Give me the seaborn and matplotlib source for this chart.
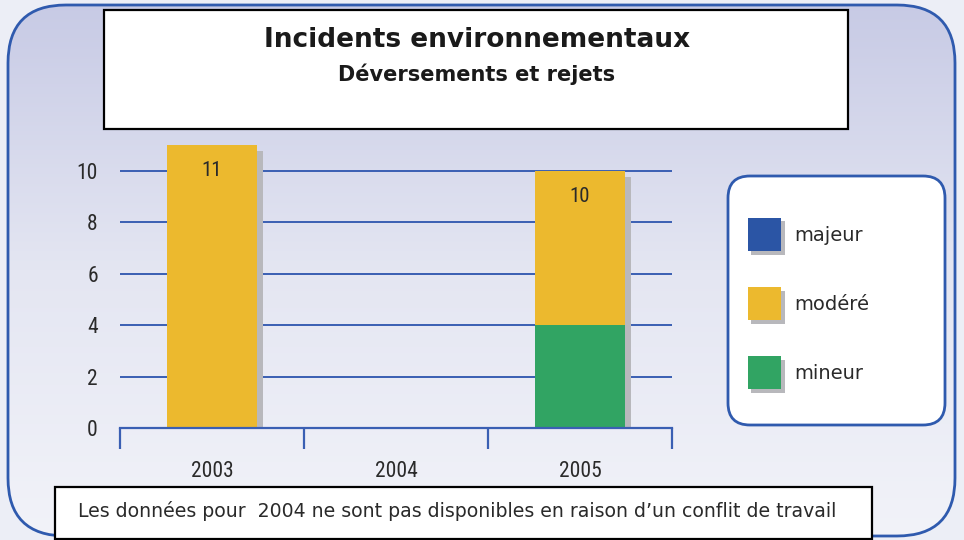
"""
Incidents environnementaux - Déversements et rejets
"""

import numpy as np
import pandas as pd
import matplotlib
matplotlib.use("Agg")
import matplotlib.pyplot as plt
import matplotlib.patheffects as pe
from matplotlib.patches import FancyBboxPatch, Rectangle, Patch
from matplotlib import font_manager
import seaborn as sns

# ── Data ──────────────────────────────────────────────────────────────────────
YEARS      = ["2003", "2004", "2005"]
MAJEUR     = [0, np.nan, 0]
MODERE     = [11, np.nan, 6]
MINEUR     = [0, np.nan, 4]
Y_TICKS    = [0, 2, 4, 6, 8, 10]
CATEGORIES = ["majeur", "modéré", "mineur"]

TITLE    = "Incidents environnementaux"
SUBTITLE = "Déversements et rejets"
NOTE     = "Les données pour  2004 ne sont pas disponibles en raison d\u2019un conflit de travail"

# ── Style ─────────────────────────────────────────────────────────────────────
COLORS = {"majeur": "#2b55a5", "modéré": "#ecb92e", "mineur": "#31a463"}
BLUE   = "#3a5fb3"
SHADOW = "#b8b8bc"
TXT    = "#2a2a2a"

installed = {f.name for f in font_manager.fontManager.ttflist}
NARROW = [f for f in ["Liberation Sans Narrow", "DejaVu Sans Condensed", "Roboto Condensed"]
          if f in installed] + ["DejaVu Sans"]

sns.set_theme(style="white")
plt.rcParams["font.family"] = ["DejaVu Sans"]

W, H = 964, 540
fig = plt.figure(figsize=(W / 100, H / 100), dpi=100)
fig.patch.set_facecolor("#eceef6")

# ── Background (pixel coordinates) ────────────────────────────────────────────
bg = fig.add_axes([0, 0, 1, 1], zorder=0)
bg.set_xlim(0, W)
bg.set_ylim(H, 0)
bg.axis("off")

panel = FancyBboxPatch((8, 5), 947, 531, boxstyle="round,pad=0,rounding_size=58",
                       facecolor="none", edgecolor="#2f5aae", linewidth=2, zorder=3)
bg.add_patch(panel)
grad = np.linspace(0, 1, 256).reshape(-1, 1)
cmap = matplotlib.colors.LinearSegmentedColormap.from_list("bgc", ["#c7cae5", "#e4e6f2", "#f2f3f9"])
im = bg.imshow(grad, extent=(0, W, H, 0), cmap=cmap, aspect="auto", zorder=1)
im.set_clip_path(panel)

# title box
bg.add_patch(Rectangle((104, 10), 744, 119, facecolor="white", edgecolor="black",
                       linewidth=1.6, zorder=4))
bg.text(477, 40, TITLE, ha="center", va="center", fontsize=19, fontweight="bold",
        color="#1a1a1a", zorder=5)
bg.text(477, 74, SUBTITLE, ha="center", va="center", fontsize=15, fontweight="bold",
        color="#1a1a1a", zorder=5)

# legend box
bg.add_patch(FancyBboxPatch((728, 176), 217, 249, boxstyle="round,pad=0,rounding_size=22",
                            facecolor="white", edgecolor="#2f5aae", linewidth=2, zorder=4))

# footnote box
bg.add_patch(Rectangle((55, 487), 817, 52, facecolor="white", edgecolor="black",
                       linewidth=1.6, zorder=4))
bg.text(78, 511, NOTE, ha="left", va="center", fontsize=13.6, color=TXT, zorder=5)

# ── Bars ──────────────────────────────────────────────────────────────────────
df = pd.DataFrame({"year": YEARS, "majeur": MAJEUR, "modéré": MODERE, "mineur": MINEUR})
df["top_modere"] = df["mineur"] + df["modéré"]
df["top_majeur"] = df["top_modere"] + df["majeur"]

ax = fig.add_axes([120 / W, 1 - 428 / H, 552 / W, 11 * 25.7 / H], zorder=1)
ax.set_facecolor("none")
shadow = [pe.SimplePatchShadow(offset=(4.5, -4), shadow_rgbFace=SHADOW, alpha=1), pe.Normal()]

for col, cat in [("top_majeur", "majeur"), ("top_modere", "modéré"), ("mineur", "mineur")]:
    n_before = len(ax.patches)
    sns.barplot(data=df, x="year", y=col, order=YEARS, color=COLORS[cat], width=0.49,
                saturation=1, ax=ax, errorbar=None, linewidth=0)
    for p in ax.patches[n_before:]:
        if p.get_height() > 0:
            p.set_path_effects(shadow)
        else:
            p.set_visible(False)

# total labels
for i, tot in enumerate(df["top_majeur"]):
    if pd.notna(tot) and tot > 0:
        ax.text(i, tot - 1.0, f"{int(tot)}", ha="center", va="center", fontsize=15,
                color=TXT, family=NARROW)

# ── Axes styling ──────────────────────────────────────────────────────────────
ax.set_xlim(-0.5, 2.5)
ax.set_ylim(0, 11)
ax.set_xlabel("")
ax.set_ylabel("")
ax.set_axisbelow(True)
ax.yaxis.grid(True, color=BLUE, linewidth=1.4)
ax.xaxis.grid(False)
for s in ["left", "right", "top"]:
    ax.spines[s].set_visible(False)
ax.spines["bottom"].set_color(BLUE)
ax.spines["bottom"].set_linewidth(1.6)

ax.set_yticks(Y_TICKS)
ax.set_yticklabels([str(v) for v in Y_TICKS], family=NARROW, fontsize=15.5, color=TXT)
ax.tick_params(axis="y", length=0, pad=16)

ax.set_xticks([-0.5, 0.5, 1.5, 2.5])
ax.set_xticklabels([])
ax.set_xticks([0, 1, 2], YEARS, minor=True)
ax.tick_params(axis="x", which="major", bottom=True, direction="out", length=15,
               width=1.6, color=BLUE)
ax.tick_params(axis="x", which="minor", bottom=True, length=0, pad=24, labelsize=15.5,
               labelcolor=TXT)
for lbl in ax.get_xticklabels(minor=True):
    lbl.set_family(NARROW)

# ── Legend ────────────────────────────────────────────────────────────────────
handles = [Patch(facecolor=COLORS[c], edgecolor="none",
                 path_effects=[pe.SimplePatchShadow(offset=(2.5, -2.5), shadow_rgbFace=SHADOW,
                                                    alpha=1), pe.Normal()])
           for c in CATEGORIES]
fig.legend(handles, CATEGORIES, loc="upper left", bbox_to_anchor=(748 / W, 1 - 218 / H),
           frameon=False, fontsize=14, handlelength=1.7, handleheight=2.24,
           labelspacing=1.85, handletextpad=0.7, borderpad=0, borderaxespad=0,
           labelcolor=TXT)

fig.savefig("out.png", dpi=100)
plt.close(fig)
